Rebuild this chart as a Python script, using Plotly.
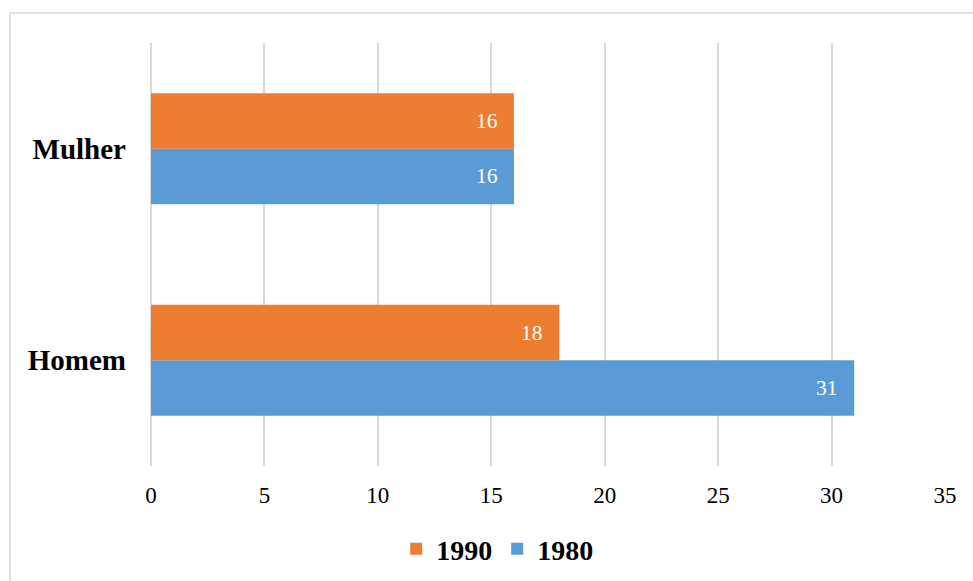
import plotly.graph_objects as go

categories = ["Homem", "Mulher"]
values_1980 = [31, 16]
values_1990 = [18, 16]
x_ticks = [0, 5, 10, 15, 20, 25, 30, 35]

BLUE = "#5B9BD5"
ORANGE = "#ED7D31"
FONT = "Liberation Serif"

fig = go.Figure()
fig.add_trace(go.Bar(
    y=categories, x=values_1980, name="1980", orientation="h",
    marker=dict(color=BLUE, line=dict(width=0)),
))
fig.add_trace(go.Bar(
    y=categories, x=values_1990, name="1990", orientation="h",
    marker=dict(color=ORANGE, line=dict(width=0)),
))

annotations = []
for cat, v in zip(categories, values_1980):
    annotations.append(dict(x=v, y=cat, xref="x", yref="y", text=str(v),
                            showarrow=False, xanchor="right", yanchor="middle",
                            xshift=-14, yshift=-27.5,
                            font=dict(color="white", size=21.5, family=FONT)))
for cat, v in zip(categories, values_1990):
    annotations.append(dict(x=v, y=cat, xref="x", yref="y", text=str(v),
                            showarrow=False, xanchor="right", yanchor="middle",
                            xshift=-14, yshift=27.5,
                            font=dict(color="white", size=21.5, family=FONT)))

fig.update_layout(
    width=973, height=581,
    margin=dict(l=151, r=28, t=43, b=115, autoexpand=False),
    paper_bgcolor="white", plot_bgcolor="white",
    barmode="group", bargap=0.476, bargroupgap=0,
    font=dict(family=FONT, color="black"),
    annotations=annotations,
    xaxis=dict(
        range=[0, 35], tickvals=x_ticks, ticktext=[str(t) for t in x_ticks],
        showgrid=True, gridcolor="#d9d9d9", gridwidth=1.5,
        zeroline=True, zerolinecolor="#d9d9d9", zerolinewidth=1.5,
        showline=False, ticks="", tickfont=dict(size=23, family=FONT),
        ticklabelstandoff=13, automargin=False,
    ),
    yaxis=dict(
        showgrid=False, zeroline=False, showline=False, ticks="",
        tickfont=dict(size=29, family=FONT, weight="bold"),
        ticklabelstandoff=24, automargin=False,
    ),
    legend=dict(
        orientation="h", traceorder="reversed",
        x=0.436, xanchor="center", yref="container", y=0.055, yanchor="middle",
        font=dict(size=28, family=FONT, weight="bold"),
        itemwidth=30,
    ),
    showlegend=True,
    shapes=[dict(
        type="rect", xref="paper", yref="paper",
        x0=-0.1775, x1=1.1, y0=-0.5, y1=1.0709,
        line=dict(color="#d9d9d9", width=1.5), fillcolor="rgba(0,0,0,0)",
        layer="below",
    )],
)

fig.write_html("out.html")
